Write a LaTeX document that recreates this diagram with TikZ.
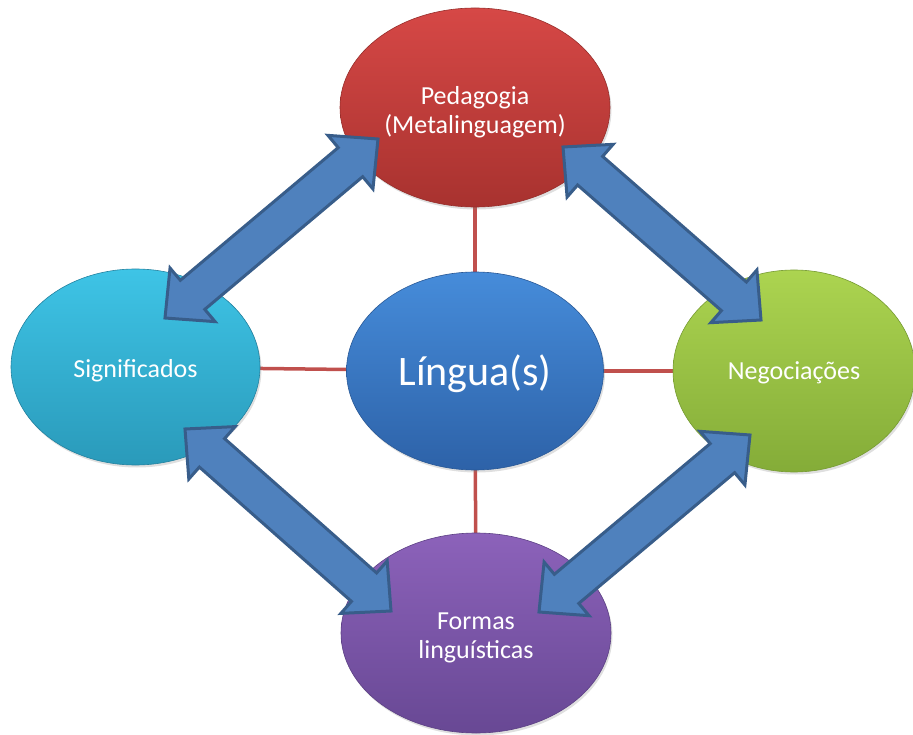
\documentclass[tikz,border=0pt]{standalone}
\usepackage{fontspec}
\setmainfont{Carlito}
\usetikzlibrary{shapes.geometric,calc,shadows}
\definecolor{arrfill}{HTML}{4F81BD}
\definecolor{arrline}{HTML}{385D8A}
\definecolor{linkred}{HTML}{C0504D}
\newcommand{\ahlen}{36pt}
\newcommand{\ahwid}{35pt}
\newcommand{\ashw}{19pt}
\newcommand{\dblarrow}[2]{%
  \coordinate (pb) at ($(#1)!\ahlen!(#2)$);
  \coordinate (qb) at ($(#2)!\ahlen!(#1)$);
  \filldraw[blockarrow] (#1)
    -- ($(pb)!\ahwid!90:(#2)$) -- ($(pb)!\ashw!90:(#2)$)
    -- ($(qb)!\ashw!-90:(#1)$) -- ($(qb)!\ahwid!-90:(#1)$)
    -- (#2)
    -- ($(qb)!\ahwid!90:(#1)$) -- ($(qb)!\ashw!90:(#1)$)
    -- ($(pb)!\ashw!-90:(#2)$) -- ($(pb)!\ahwid!-90:(#2)$)
    -- cycle;
}
\tikzset{
  bubble/.style={ellipse, inner sep=0pt, line width=0.6pt,
    drop shadow={opacity=0.25, shadow xshift=1.5pt, shadow yshift=-2.5pt}},
  bubtext/.style={text=white, align=center, inner sep=0pt,
    font=\fontsize{26}{29}\selectfont},
  blockarrow/.style={fill=arrfill, draw=arrline, line width=3pt, line join=miter},
  link/.style={draw=linkred, line width=3.5pt}
}
\begin{document}
\begin{tikzpicture}[x=1pt,y=-1pt]
\useasboundingbox (0,0) rectangle (913,735);
% centres
\coordinate (pedc) at (475,107.5);
\coordinate (lingc) at (475,371);
\coordinate (sigc) at (135.5,367);
\coordinate (negc) at (794,371);
\coordinate (forc) at (476,633);
% connectors (behind)
\draw[link] (pedc) -- (lingc);
\draw[link] (forc) -- (lingc);
\draw[link] (sigc) -- (lingc);
\draw[link] (lingc) -- (negc);
% bubbles
\node[bubble, minimum width=270pt, minimum height=199pt,
  top color={rgb,255:red,214;green,72;blue,70}, bottom color={rgb,255:red,168;green,50;blue,47},
  draw={rgb,255:red,150;green,45;blue,42},
  label={[bubtext, yshift=-5pt]center:Pedagogia\\(Metalinguagem)}] (ped) at (pedc) {};
\node[bubble, minimum width=249pt, minimum height=196pt,
  top color={rgb,255:red,62;green,196;blue,230}, bottom color={rgb,255:red,42;green,154;blue,186},
  draw={rgb,255:red,35;green,130;blue,160},
  label={[bubtext, yshift=-4pt]center:Significados}] (sig) at (sigc) {};
\node[bubble, minimum width=242pt, minimum height=202pt,
  top color={rgb,255:red,172;green,212;blue,80}, bottom color={rgb,255:red,132;green,172;blue,56},
  draw={rgb,255:red,118;green,155;blue,50},
  label={[bubtext, yshift=-2pt]center:Negociações}] (neg) at (negc) {};
\node[bubble, minimum width=257pt, minimum height=198pt,
  top color={rgb,255:red,70;green,140;blue,218}, bottom color={rgb,255:red,45;green,98;blue,168},
  draw={rgb,255:red,40;green,88;blue,150},
  label={[bubtext, yshift=-3pt, font=\fontsize{42}{46}\selectfont]center:Língua(s)}] (ling) at (lingc) {};
\node[bubble, minimum width=270pt, minimum height=200pt,
  top color={rgb,255:red,140;green,98;blue,186}, bottom color={rgb,255:red,104;green,72;blue,148},
  draw={rgb,255:red,92;green,64;blue,132},
  label={[bubtext, yshift=-5pt]center:Formas\\linguísticas}] (for) at (forc) {};
% arrow tips
\coordinate (a1) at (378,139);
\coordinate (a2) at (165,318);
\coordinate (b1) at (563,147);
\coordinate (b2) at (761,320);
\coordinate (c1) at (185,429);
\coordinate (c2) at (391,611);
\coordinate (d1) at (750,435);
\coordinate (d2) at (539,612);
\dblarrow{a1}{a2}
\dblarrow{b1}{b2}
\dblarrow{c1}{c2}
\dblarrow{d1}{d2}
\end{tikzpicture}
\end{document}
